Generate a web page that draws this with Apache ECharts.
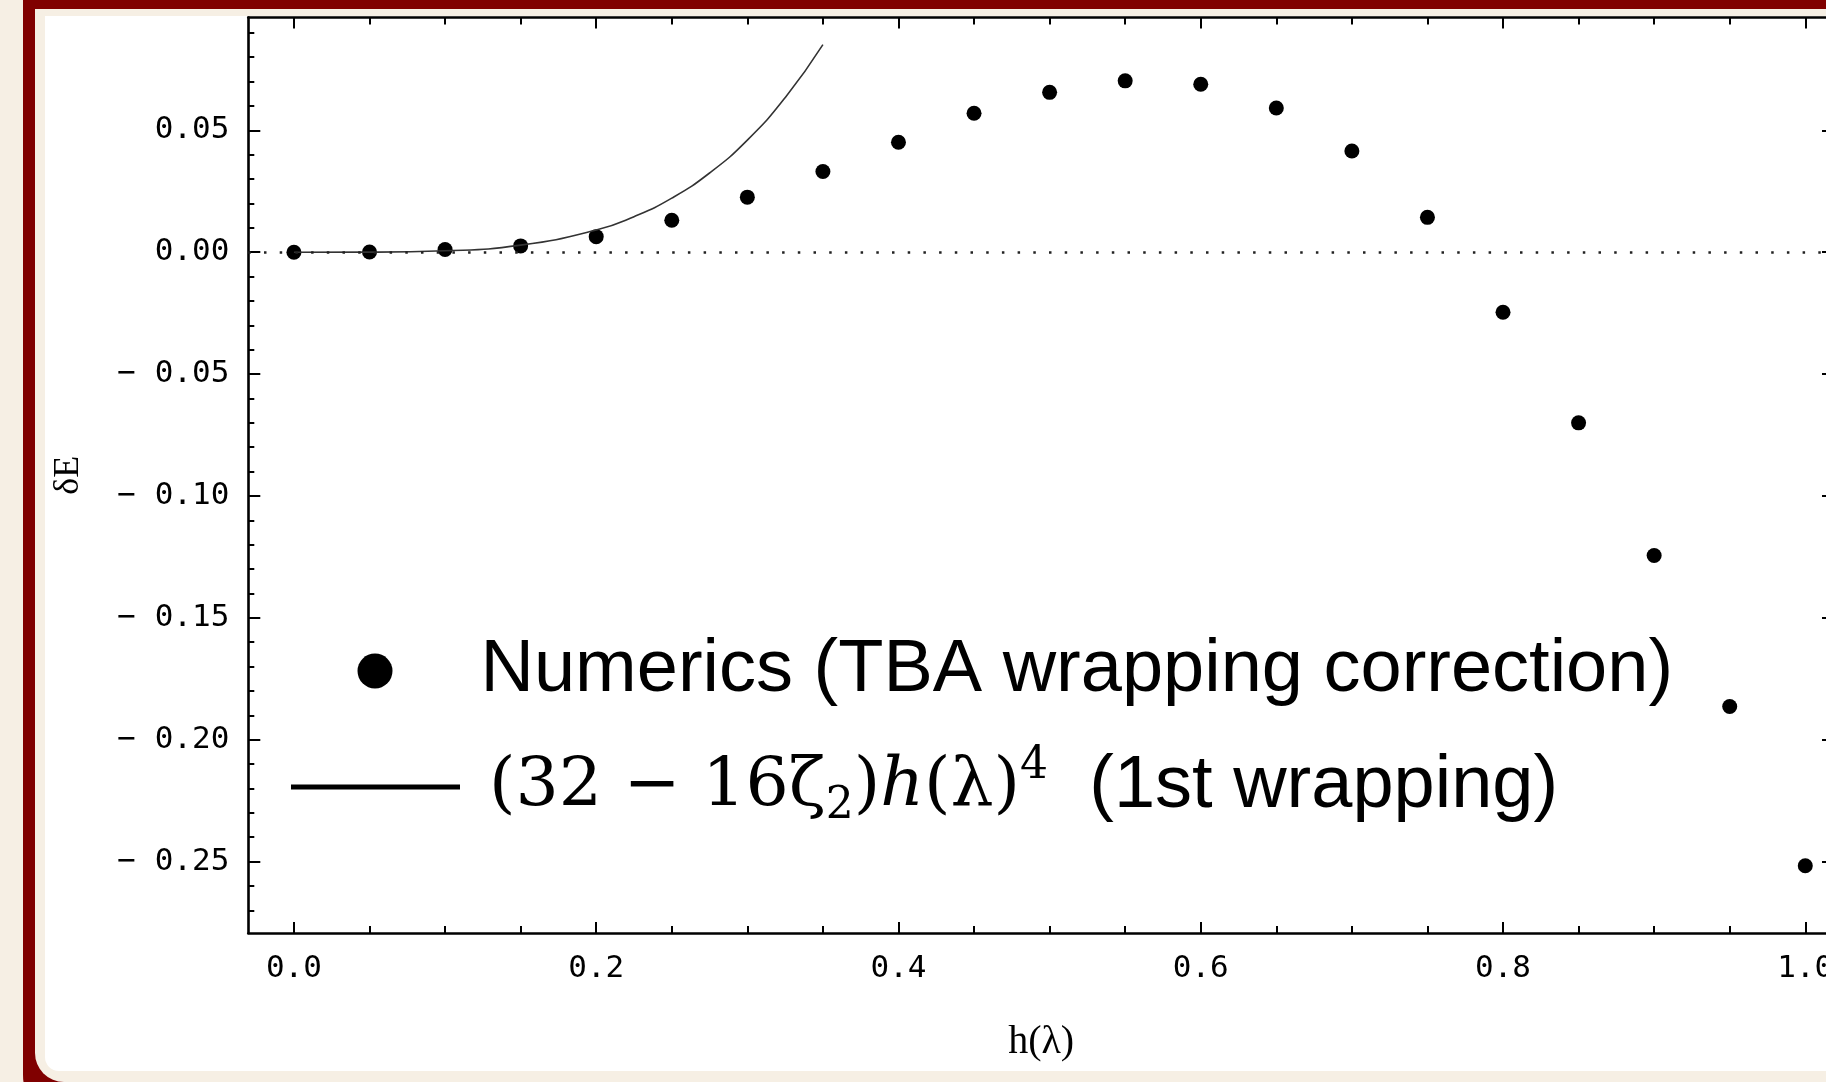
<!DOCTYPE html>
<html><head><meta charset="utf-8">
<script src="https://cdn.jsdelivr.net/npm/echarts@6/dist/echarts.min.js"></script>
<style>html,body{margin:0;padding:0;background:#F6EFE4}#c{width:1826px;height:1082px}</style>
</head><body><div id="c"></div>
<script>
// ---- data ----
const hValues = [0, 0.05, 0.1, 0.15, 0.2, 0.25, 0.3, 0.35, 0.4, 0.45, 0.5, 0.55, 0.6, 0.65, 0.7, 0.75, 0.8, 0.85, 0.9, 0.95, 1.0];
const numericsDE = [0.0000, 0.0001, 0.0011, 0.0026, 0.0064, 0.0131, 0.0226, 0.0331, 0.0451, 0.0570, 0.0656, 0.0703, 0.0689, 0.0592, 0.0415, 0.0143, -0.0246, -0.0700, -0.1244, -0.1864, -0.2517];
const curveH = [0, 0.05, 0.1, 0.15, 0.2, 0.225, 0.25, 0.275, 0.3, 0.325, 0.35];
const curveDE = [0, 0.00004, 0.0006, 0.0029, 0.0091, 0.0146, 0.0222, 0.0325, 0.0460, 0.0634, 0.0852];
const xMajorTicks = [0, 0.2, 0.4, 0.6, 0.8, 1.0];
const xMinorTicks = [0.05, 0.1, 0.15, 0.25, 0.3, 0.35, 0.45, 0.5, 0.55, 0.65, 0.7, 0.75, 0.85, 0.9, 0.95];
const yMajorTicks = [-0.25, -0.2, -0.15, -0.1, -0.05, 0, 0.05];
const yMinorTicks = [-0.27, -0.26, -0.24, -0.23, -0.22, -0.21, -0.19, -0.18, -0.17, -0.16, -0.14, -0.13, -0.12, -0.11, -0.09, -0.08, -0.07, -0.06, -0.04, -0.03, -0.02, -0.01, 0.01, 0.02, 0.03, 0.04, 0.06, 0.07, 0.08, 0.09];
const seriesNames = ['Numerics (TBA wrapping correction)', '(32 − 16ζ2)h(λ)4  (1st wrapping)'];
const xName = 'h(λ)';
const yName = 'δE';

const X_MIN = -0.0302, X_MAX = 1.019, Y_MIN = -0.2793, Y_MAX = 0.0963;
const tickFont = {fontFamily: 'DejaVu Sans Mono', fontSize: 31, color: '#000'};
function yFmt(v) {
  const s = Math.abs(v).toFixed(2);
  return v < -1e-9 ? '− ' + s : s;
}
function xFmt(v) { return v.toFixed(1); }

function xAxisDef(pos, ticks, len, labels, line) {
  return {
    type: 'value', position: pos, min: X_MIN, max: X_MAX, gridIndex: 0,
    axisLine: {show: line, onZero: false, lineStyle: {color: '#000', width: 2.6}},
    axisTick: {show: true, inside: true, length: len, customValues: ticks, lineStyle: {color: '#000', width: 2}},
    axisLabel: labels ? Object.assign({show: true, customValues: ticks, margin: 20, formatter: xFmt}, tickFont) : {show: false},
    splitLine: {show: false}
  };
}
function yAxisDef(pos, ticks, len, labels, line) {
  return {
    type: 'value', position: pos, min: Y_MIN, max: Y_MAX, gridIndex: 0,
    axisLine: {show: line, onZero: false, lineStyle: {color: '#000', width: 2.6}},
    axisTick: {show: true, inside: true, length: len, customValues: ticks, lineStyle: {color: '#000', width: 2}},
    axisLabel: labels ? Object.assign({show: true, customValues: ticks, margin: 19, formatter: yFmt}, tickFont) : {show: false},
    splitLine: {show: false}
  };
}

const xAxes = [
  xAxisDef('bottom', xMajorTicks, 11, true, true),
  xAxisDef('bottom', xMinorTicks, 7, false, false),
  xAxisDef('top', xMajorTicks, 11, false, true),
  xAxisDef('top', xMinorTicks, 7, false, false)
];
Object.assign(xAxes[0], {name: xName, nameLocation: 'middle', nameGap: 89,
  nameTextStyle: {fontFamily: 'Liberation Serif', fontSize: 40, color: '#000'}});
const yAxes = [
  yAxisDef('left', yMajorTicks, 12, true, true),
  yAxisDef('left', yMinorTicks, 6, false, false),
  yAxisDef('right', yMajorTicks, 12, false, true),
  yAxisDef('right', yMinorTicks, 6, false, false)
];
Object.assign(yAxes[0], {name: yName, nameLocation: 'middle', nameRotate: 90, nameGap: 162,
  nameTextStyle: {fontFamily: 'Liberation Serif', fontSize: 36, color: '#000'}});

const chart = echarts.init(document.getElementById('c'), null, {renderer: 'canvas'});
chart.setOption({
  backgroundColor: '#F6EFE4',
  animation: false,
  graphic: {elements: [
    {type: 'rect', z: -100, silent: true, shape: {x: 23, y: -40, width: 1900, height: 1160, r: [0, 0, 0, 45]}, style: {fill: '#800000'}},
    {type: 'rect', z: -99, silent: true, shape: {x: 35, y: 9, width: 1900, height: 1073, r: [0, 0, 0, 29]}, style: {fill: '#F6EFE4'}},
    {type: 'rect', z: -98, silent: true, shape: {x: 45, y: 16, width: 1900, height: 1055, r: [0, 0, 0, 14]}, style: {fill: '#FFFFFF'}}
  ]},
  grid: {left: 248.3, top: 17.5, width: 1585.7, height: 915.5, containLabel: false, outerBoundsMode: 'none'},
  xAxis: xAxes,
  yAxis: yAxes,
  legend: [
    {
      data: [{name: seriesNames[0], icon: 'circle'}],
      left: 357.5, top: 634, padding: 0, itemWidth: 35, itemHeight: 35, selectedMode: false,
      itemStyle: {color: '#000', opacity: 1},
      formatter: n => '{g| }{t|' + n + '}',
      textStyle: {rich: {
        g: {width: 83, fontSize: 10},
        t: {fontFamily: 'Liberation Sans', fontSize: 74, lineHeight: 80, color: '#000'}
      }}
    },
    {
      data: [{name: seriesNames[1], icon: 'rect'}],
      left: 291, top: 745, padding: 0, itemWidth: 169, itemHeight: 5, selectedMode: false,
      itemStyle: {color: '#000', opacity: 1}, lineStyle: {width: 0},
      formatter: () => '{g| }{m|(32 − 16ζ}{sub|2}{m|)}{mi|h}{m|(λ)}{sup|4}{s|  (1st wrapping)}',
      textStyle: {rich: {
        g: {width: 24, fontSize: 10},
        m: {fontFamily: 'DejaVu Serif', fontSize: 68, lineHeight: 84, color: '#000'},
        mi: {fontFamily: 'DejaVu Serif', fontStyle: 'italic', fontSize: 68, lineHeight: 84, color: '#000'},
        sub: {fontFamily: 'DejaVu Serif', fontSize: 44, verticalAlign: 'bottom', color: '#000'},
        sup: {fontFamily: 'DejaVu Serif', fontSize: 44, verticalAlign: 'top', color: '#000'},
        s: {fontFamily: 'Liberation Sans', fontSize: 74, lineHeight: 84, color: '#000'}
      }}
    }
  ],
  series: [
    {
      name: seriesNames[0], type: 'scatter', xAxisIndex: 0, yAxisIndex: 0,
      symbol: 'circle', symbolSize: 15, itemStyle: {color: '#000', opacity: 1},
      data: hValues.map((h, i) => [h, numericsDE[i]]),
      markLine: {silent: true, symbol: 'none', label: {show: false},
        lineStyle: {type: [2.5, 13.2], color: '#222', width: 2.5, opacity: 1},
        data: [{yAxis: 0}]},
      z: 3
    },
    {
      name: seriesNames[1], type: 'line', xAxisIndex: 0, yAxisIndex: 0,
      smooth: true, showSymbol: false, symbol: 'none',
      lineStyle: {color: '#333', width: 1.6},
      data: curveH.map((h, i) => [h, curveDE[i]]),
      z: 4
    }
  ]
});
</script></body></html>
